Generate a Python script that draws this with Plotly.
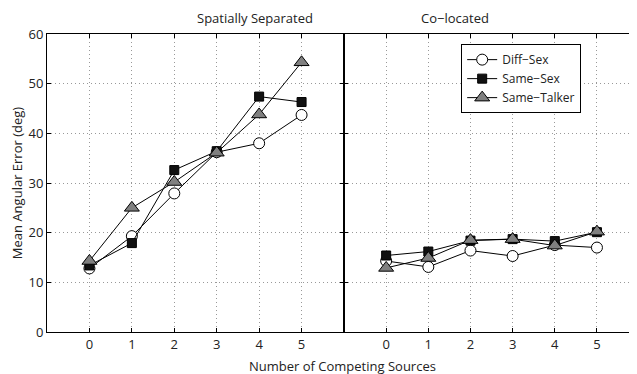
import plotly.graph_objects as go

sources = [0, 1, 2, 3, 4, 5]
series_names = ["Diff−Sex", "Same−Sex", "Same−Talker"]
# Spatially Separated
sep_diff_sex = [12.8, 19.3, 27.9, 36.2, 38.0, 43.7]
sep_same_sex = [13.4, 17.9, 32.6, 36.4, 47.4, 46.3]
sep_same_talker = [14.3, 25.0, 30.2, 36.1, 43.8, 54.3]
# Co-located
co_diff_sex = [14.3, 13.1, 16.4, 15.3, 17.5, 17.0]
co_same_sex = [15.4, 16.2, 18.4, 18.7, 18.3, 20.1]
co_same_talker = [12.9, 14.9, 18.5, 18.7, 17.4, 20.2]

yticks = [0, 10, 20, 30, 40, 50, 60]

styles = [
    dict(symbol="circle", size=11, color="white"),
    dict(symbol="square", size=9, color="#111111"),
    dict(symbol="triangle-up", size=13, color="#808080"),
]

fig = go.Figure()
sep = [sep_diff_sex, sep_same_sex, sep_same_talker]
co = [co_diff_sex, co_same_sex, co_same_talker]
for i, name in enumerate(series_names):
    st = styles[i]
    mk = dict(symbol=st["symbol"], size=st["size"], color=st["color"],
              line=dict(color="black", width=1))
    fig.add_trace(go.Scatter(x=sources, y=sep[i], mode="lines+markers", name=name,
                             line=dict(color="black", width=1), marker=mk,
                             xaxis="x", yaxis="y", showlegend=False))
    fig.add_trace(go.Scatter(x=sources, y=co[i], mode="lines+markers", name=name,
                             line=dict(color="black", width=1), marker=mk,
                             xaxis="x2", yaxis="y2", showlegend=True))

# page body adds an 8px offset; figure is sized/margined to compensate
split = 297 / 590
axis_common = dict(showline=True, linecolor="black", linewidth=1, mirror="allticks",
                   ticks="inside", ticklen=4, tickcolor="black", automargin=False,
                   showgrid=True, gridcolor="#999999", griddash="1px,3px", gridwidth=1,
                   zeroline=False, tickfont=dict(size=13, color="#222"))
fig.update_layout(
    width=629, height=366,
    margin=dict(l=39, r=0, t=26, b=42, autoexpand=False),
    paper_bgcolor="white", plot_bgcolor="white",
    font=dict(family="Open Sans, Noto Sans, sans-serif", size=13, color="#222"),
    xaxis=dict(domain=[0, split], range=[-1, 6], tickvals=sources, **axis_common),
    xaxis2=dict(domain=[split, 1], range=[-1, 5.95], tickvals=sources, anchor="y2", **axis_common),
    yaxis=dict(range=[0, 60], tickvals=yticks, anchor="x",
               title=dict(text="Mean Angular Error (deg)", font=dict(size=13), standoff=4),
               **axis_common),
    yaxis2=dict(range=[0, 60], tickvals=yticks, anchor="x2", showticklabels=False, **axis_common),
    legend=dict(x=0.702, y=0.966, xanchor="left", yanchor="top",
                bgcolor="white", bordercolor="black", borderwidth=1,
                font=dict(size=12, color="#222"), tracegroupgap=0,
                itemwidth=30),
    annotations=[
        dict(text="Spatially Separated", x=split / 2, y=1.0, xref="paper", yref="paper",
             yanchor="bottom", yshift=5, showarrow=False, font=dict(size=13)),
        dict(text="Co−located", x=(split + 1) / 2, y=1.0, xref="paper", yref="paper",
             yanchor="bottom", yshift=5, showarrow=False, font=dict(size=13)),
        dict(text="Number of Competing Sources", x=0.5, y=0, xref="paper", yref="paper",
             yanchor="top", yshift=-23, showarrow=False, font=dict(size=13)),
    ],
)
fig.write_html("out.html")
